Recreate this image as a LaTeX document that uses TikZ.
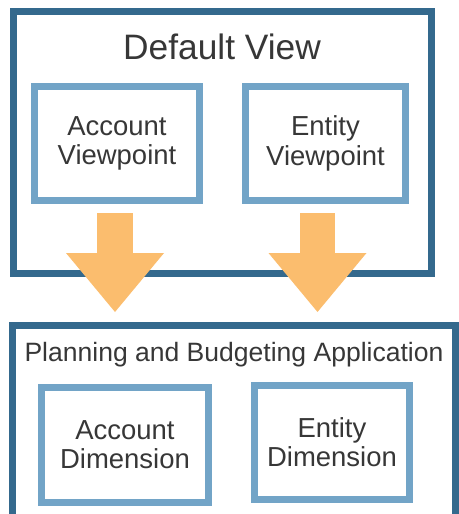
\documentclass[tikz,border=0pt]{standalone}
\usepackage{fontspec}
\setmainfont{Liberation Sans}
\usepackage{xcolor}
\usetikzlibrary{arrows.meta}

\definecolor{frameblue}{RGB}{52,105,141}
\definecolor{boxblue}{RGB}{114,164,199}
\definecolor{floworange}{RGB}{251,189,110}
\definecolor{textgray}{RGB}{55,55,55}

\tikzset{
  frame/.style={draw=frameblue, line width=5.25pt, inner sep=0pt, fill=white},
  inbox/.style={draw=boxblue, line width=5.25pt, inner sep=0pt, align=center,
    text=textgray, font=\fontsize{20.6}{22}\selectfont},
  title/.style={text=textgray, inner sep=0pt},
  flow/.style={draw=floworange, line width=26.6pt,
    -{Triangle[width=73.5pt, length=44.25pt, line width=0pt, fill=floworange]}}
}

\begin{document}
\begin{tikzpicture}[x=0.75pt,y=0.75pt,yscale=-1]

    \useasboundingbox (0,0) rectangle (458,514);

    \draw (222.5,142.5) node [frame, minimum width=313.5pt, minimum height=196.5pt] (dv) {};
    \draw (222,47) node [title, font=\fontsize{26.5}{30}\selectfont] (dvt) {Default View};
    \draw (117,143.5) node [inbox, minimum width=123.75pt, minimum height=85.5pt] (av) {Account\\Viewpoint};
    \draw (325.5,143.5) node [inbox, minimum width=120pt, minimum height=85.5pt] (ev) {Entity\\Viewpoint};

    \draw (233.75,430) node [frame, minimum width=331.9pt, minimum height=156.75pt] (pb) {};
    \draw (234,355) node [title, font=\fontsize{19.9}{22}\selectfont] (pbt) {Planning and Budgeting Application};
    \draw (125,445) node [inbox, minimum width=125.25pt, minimum height=86.25pt] (ad) {Account\\Dimension};
    \draw (332,442.5) node [inbox, minimum width=116.25pt, minimum height=85.5pt] (ed) {Entity\\Dimension};

    \coordinate (a1) at (115,213);
    \coordinate (b1) at (115,312);
    \coordinate (a2) at (317.5,213);
    \coordinate (b2) at (317.5,312);
    \draw [flow] (a1) -- (b1);
    \draw [flow] (a2) -- (b2);

\end{tikzpicture}
\end{document}
